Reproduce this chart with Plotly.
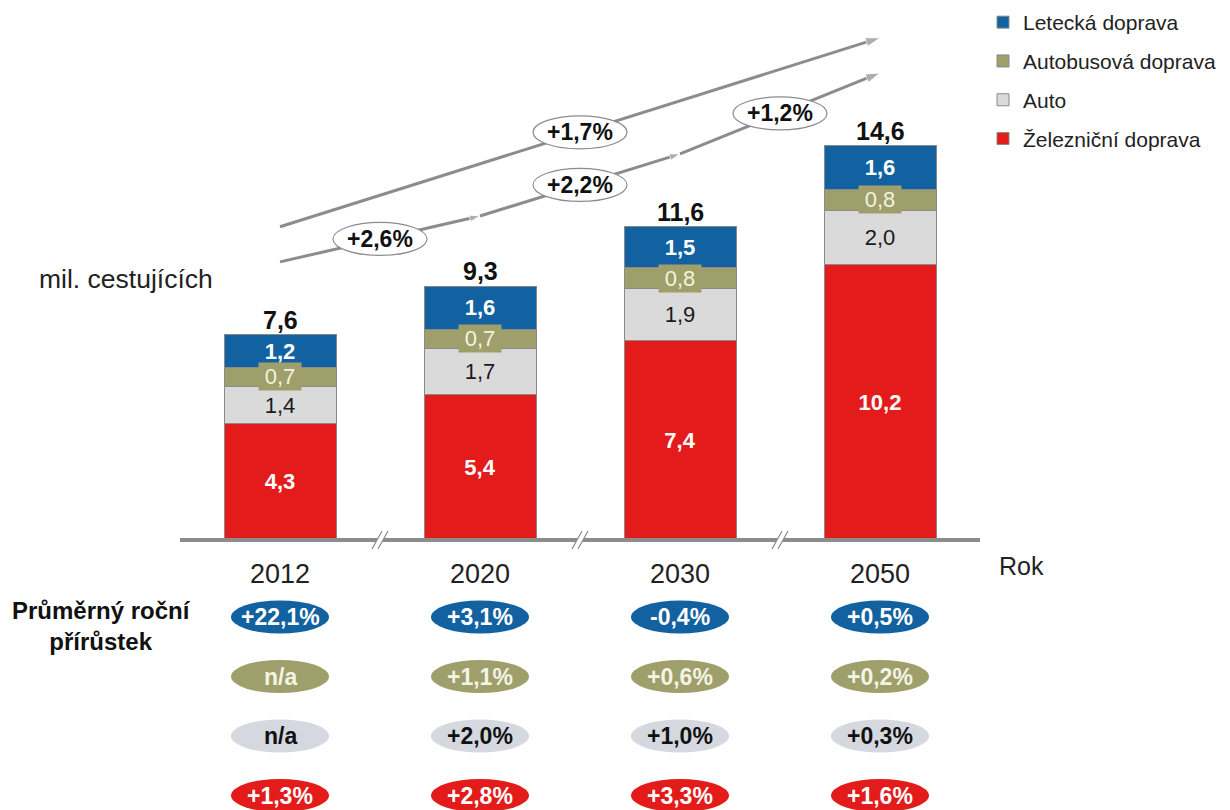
import plotly.graph_objects as go

# ---------------- data ----------------
years = ["2012", "2020", "2030", "2050"]
rail = [4.3, 5.4, 7.4, 10.2]        # Železniční doprava
car = [1.4, 1.7, 1.9, 2.0]          # Auto
bus = [0.7, 0.7, 0.8, 0.8]          # Autobusová doprava
air = [1.2, 1.6, 1.5, 1.6]          # Letecká doprava
totals = [7.6, 9.3, 11.6, 14.6]

growth_air = ["+22,1%", "+3,1%", "-0,4%", "+0,5%"]
growth_bus = ["n/a", "+1,1%", "+0,6%", "+0,2%"]
growth_car = ["n/a", "+2,0%", "+1,0%", "+0,3%"]
growth_rail = ["+1,3%", "+2,8%", "+3,3%", "+1,6%"]
growth_total_steps = ["+2,6%", "+2,2%", "+1,2%"]
growth_total_overall = "+1,7%"

# ---------------- style ----------------
FONT = "Liberation Sans, Arial, sans-serif"
C_RAIL = "#e31b1b"
C_CAR = "#dadada"
C_BUS = "#9e9f6b"
C_AIR = "#1262a1"
C_BADGE_GRAY = "#d5d8df"
C_ARROW = "#8c8c8c"
W, H = 1230, 810
PX_PER_UNIT = 27.0          # vertical pixels per million passengers
X_LEFT, X_RIGHT = 180, 980  # x-axis domain in pixels
Y_AXIS_PX = 540             # pixel row of the baseline
y_min = -(H - Y_AXIS_PX) / PX_PER_UNIT
y_max = Y_AXIS_PX / PX_PER_UNIT
unit_x = (X_RIGHT - X_LEFT) / 4.0


def py_to_y(py):
    return (Y_AXIS_PX - py) / PX_PER_UNIT


def fmt(v):
    return f"{v:.1f}".replace(".", ",")


xs = list(range(len(years)))
fig = go.Figure()

bar_common = dict(x=xs, width=0.56, marker_line_color="#8a8a8a", marker_line_width=1)
fig.add_trace(go.Bar(y=rail, name="Železniční doprava", legendgroup="rail", legendrank=4,
                     marker_color=C_RAIL, texttemplate="%{y:.1f}", textposition="inside",
                     insidetextanchor="middle", constraintext="none",
                     insidetextfont=dict(family=FONT, size=22, color="white", weight="bold"),
                     **bar_common))
fig.add_trace(go.Bar(y=car, name="Auto", legendgroup="car", legendrank=3,
                     marker_color=C_CAR, texttemplate="%{y:.1f}", textposition="inside",
                     insidetextanchor="middle", constraintext="none",
                     insidetextfont=dict(family=FONT, size=22, color="#1a1a1a"),
                     **bar_common))
fig.add_trace(go.Bar(y=bus, name="Autobusová doprava", legendgroup="bus", legendrank=2,
                     marker_color=C_BUS, textposition="none", **bar_common))
fig.add_trace(go.Bar(y=air, name="Letecká doprava", legendgroup="air", legendrank=1,
                     marker_color=C_AIR, texttemplate="%{y:.1f}", textposition="inside",
                     insidetextanchor="middle", constraintext="none",
                     insidetextfont=dict(family=FONT, size=22, color="white", weight="bold"),
                     **bar_common))

# growth lines (derived from totals)
LOWER_OFF, UPPER_OFF = 2.7, 4.0
fig.add_trace(go.Scatter(
    x=xs, y=[t + LOWER_OFF for t in totals], mode="lines+markers",
    line=dict(color=C_ARROW, width=3), showlegend=False, hoverinfo="skip",
    marker=dict(symbol=["circle", "arrow", "arrow", "arrow"], size=[0, 11, 11, 15],
                angleref="previous", color=C_ARROW)))
fig.add_trace(go.Scatter(
    x=[xs[0], xs[-1]], y=[totals[0] + UPPER_OFF, totals[-1] + UPPER_OFF], mode="lines+markers",
    line=dict(color=C_ARROW, width=3), showlegend=False, hoverinfo="skip",
    marker=dict(symbol=["circle", "arrow"], size=[0, 15], angleref="previous", color=C_ARROW)))

shapes = []
annotations = []


def ellipse(xc, yc, wpx, hpx, fill, line_color=None, line_width=0):
    dx = wpx / unit_x / 2
    dy = hpx / PX_PER_UNIT / 2
    shapes.append(dict(type="circle", xref="x", yref="y", x0=xc - dx, x1=xc + dx,
                       y0=yc - dy, y1=yc + dy, fillcolor=fill, layer="above",
                       line=dict(color=line_color or fill, width=line_width)))


# growth labels on arrows
lower_y = [t + LOWER_OFF for t in totals]
for i, txt in enumerate(growth_total_steps):
    xc = i + 0.5
    yc = (lower_y[i] + lower_y[i + 1]) / 2
    ellipse(xc, yc, 94, 33, "white", C_ARROW, 1.2)
    annotations.append(dict(x=xc, y=yc, xref="x", yref="y", text=txt, showarrow=False,
                            font=dict(family=FONT, size=23, color="#111", weight="bold")))
xc_up = 1.5
yc_up = (totals[0] + UPPER_OFF) + (totals[-1] - totals[0]) * (xc_up / 3)
ellipse(xc_up, yc_up, 94, 33, "white", C_ARROW, 1.2)
annotations.append(dict(x=xc_up, y=yc_up, xref="x", yref="y", text=growth_total_overall,
                        showarrow=False, font=dict(family=FONT, size=23, color="#111", weight="bold")))

# bus labels with olive background box, totals above bars
for i in xs:
    ymid = rail[i] + car[i] + bus[i] / 2
    annotations.append(dict(x=i, y=ymid, xref="x", yref="y", text=fmt(bus[i]), showarrow=False,
                            bgcolor=C_BUS, borderpad=0, width=42, height=27,
                            font=dict(family=FONT, size=22, color="#f4f4dc")))
    top = rail[i] + car[i] + bus[i] + air[i]
    annotations.append(dict(x=i, y=top, xref="x", yref="y", text=fmt(totals[i]), showarrow=False,
                            yanchor="bottom", yshift=-1,
                            font=dict(family=FONT, size=25, color="#111", weight="bold")))

# axis breaks
for i in range(3):
    xb = i + 0.5
    dx = 5 / unit_x
    dy = 9 / PX_PER_UNIT
    gap = 3 / unit_x
    shapes.append(dict(type="path", xref="x", yref="y", layer="above",
                       path=f"M{xb - dx - gap},{-dy} L{xb - dx + gap},{-dy} L{xb + dx + gap},{dy} "
                            f"L{xb + dx - gap},{dy} Z",
                       fillcolor="white", line=dict(width=0)))
    for s in (-gap, gap):
        shapes.append(dict(type="line", xref="x", yref="y", layer="above",
                           x0=xb - dx + s, y0=-dy, x1=xb + dx + s, y1=dy,
                           line=dict(color=C_ARROW, width=1.2)))

# growth badges
badge_rows = [
    (growth_air, C_AIR, "white"),
    (growth_bus, C_BUS, "#f4f4e4"),
    (growth_car, C_BADGE_GRAY, "#111"),
    (growth_rail, C_RAIL, "white"),
]
for r, (labels, fill, tcol) in enumerate(badge_rows):
    yc = py_to_y(617 + r * 59.5)
    for i, txt in enumerate(labels):
        ellipse(i, yc, 98, 33, fill)
        annotations.append(dict(x=i, y=yc, xref="x", yref="y", text=txt, showarrow=False,
                                font=dict(family=FONT, size=23, color=tcol, weight="bold")))

# free texts
annotations.append(dict(x=37 / W, y=1 - 279 / H, xref="paper", yref="paper", text="mil. cestujících",
                        showarrow=False, xanchor="left", yanchor="middle",
                        font=dict(family=FONT, size=26.5, color="#222")))
annotations.append(dict(x=997 / W, y=1 - 566 / H, xref="paper", yref="paper", text="Rok",
                        showarrow=False, xanchor="left", yanchor="middle",
                        font=dict(family=FONT, size=25, color="#222")))
annotations.append(dict(x=101 / W, y=1 - 626 / H, xref="paper", yref="paper",
                        text="Průměrný roční<br>přírůstek", showarrow=False, align="center",
                        xanchor="center", yanchor="middle",
                        font=dict(family=FONT, size=24, color="#111", weight="bold")))

fig.update_layout(
    width=W, height=H, barmode="stack", separators=", ",
    margin=dict(l=0, r=0, t=0, b=0),
    paper_bgcolor="white", plot_bgcolor="white",
    font=dict(family=FONT, color="#222"),
    xaxis=dict(domain=[X_LEFT / W, X_RIGHT / W], range=[-0.5, 3.5], tickvals=xs, ticktext=years,
               anchor="free", position=(H - Y_AXIS_PX) / H, showline=True, linecolor=C_ARROW,
               linewidth=4, ticks="outside", ticklen=9, tickcolor="rgba(0,0,0,0)",
               tickfont=dict(family=FONT, size=27, color="#222"), showgrid=False, zeroline=False,
               fixedrange=True),
    yaxis=dict(domain=[0, 1], range=[y_min, y_max], visible=False, fixedrange=True),
    legend=dict(x=983 / W, y=1 - 2 / H, xanchor="left", yanchor="top",
                traceorder="grouped", tracegroupgap=8.5,
                font=dict(family=FONT, size=21, color="#222"), bgcolor="rgba(0,0,0,0)"),
    shapes=shapes, annotations=annotations, bargap=0.44,
)

fig.write_html("out.html", config={"displayModeBar": False},
               post_script="document.body.style.margin='0';")
